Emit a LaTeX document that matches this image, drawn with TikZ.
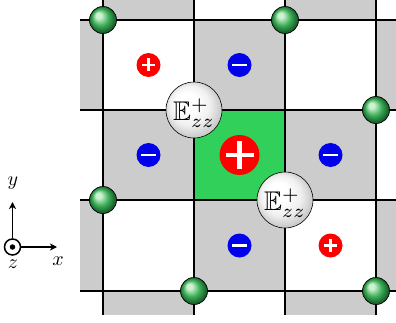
\RequirePackage{fix-cm}
\documentclass[tikz,border=0pt]{standalone}
\usepackage{amssymb}
\usepackage{graphicx}
\usetikzlibrary{arrows.meta}
\definecolor{cellgray}{RGB}{204,204,204}
\definecolor{cellgreen}{RGB}{48,208,90}
\definecolor{signred}{RGB}{255,0,0}
\definecolor{signblue}{RGB}{0,0,235}
\definecolor{balllight}{RGB}{205,242,210}
\definecolor{ballmid}{RGB}{62,175,88}
\definecolor{balldark}{RGB}{24,98,44}
\pgfdeclareradialshading{greenball}{\pgfqpoint{-10bp}{10bp}}{color(0bp)=(balllight); color(5bp)=(balllight); color(15bp)=(ballmid); color(24bp)=(balldark); color(30bp)=(balldark)}
\pgfdeclareradialshading{whiteball}{\pgfqpoint{-10bp}{10bp}}{color(0bp)=(white); color(9bp)=(white); color(18bp)=(black!6); color(25bp)=(black!20); color(30bp)=(black!20)}
\newcommand{\elemtext}{\scalebox{2.7}{$\mathbb{E}^{+}_{zz}$}}
\newcommand{\axtext}[1]{\scalebox{2.0}{$#1$}}
\tikzset{
  x=1pt, y=1pt,
  gridline/.style={line width=2.6pt},
  atom/.style={circle, draw=black, line width=0.7pt, shade, shading=greenball, minimum size=27pt, inner sep=0pt},
  elem/.style={circle, draw=black, line width=0.6pt, shade, shading=whiteball, minimum size=56pt, inner sep=0pt, text depth=0pt},
  possign/.style={circle, fill=signred, minimum size=24pt, inner sep=0pt,
    path picture={\draw[white, line width=2.2pt]
      ([xshift=-6.5pt]path picture bounding box.center) -- ([xshift=6.5pt]path picture bounding box.center)
      ([yshift=-6.5pt]path picture bounding box.center) -- ([yshift=6.5pt]path picture bounding box.center);}},
  negsign/.style={circle, fill=signblue, minimum size=24pt, inner sep=0pt,
    path picture={\draw[white, line width=2.4pt]
      ([xshift=-7.5pt]path picture bounding box.center) -- ([xshift=7.5pt]path picture bounding box.center);}},
  bigpos/.style={circle, fill=signred, minimum size=40pt, inner sep=0pt,
    path picture={\draw[white, line width=4.2pt]
      ([xshift=-14pt]path picture bounding box.center) -- ([xshift=14pt]path picture bounding box.center)
      ([yshift=-14pt]path picture bounding box.center) -- ([yshift=14pt]path picture bounding box.center);}},
  axisarrow/.style={line width=1.5pt, -{Stealth[length=7pt, width=7pt, inset=2pt]}},
  axislabel/.style={inner sep=0pt},
}
\begin{document}
\begin{tikzpicture}
\useasboundingbox (0,0) rectangle (396,322);
\begin{scope}
\clip (80,7) rectangle (396,322);
% cells
\foreach \xa/\xb/\ya/\yb in {
  103/194/302/326, 285/376/302/326,
  80/103/212/302, 194/285/212/302, 376/400/212/302,
  103/194/122/212, 285/376/122/212,
  80/103/31/122, 194/285/31/122, 376/400/31/122,
  103/194/7/31, 285/376/7/31}
  \fill[cellgray] (\xa,\ya) rectangle (\xb,\yb);
\fill[cellgreen] (194,122) rectangle (285,212);
% grid lines
\foreach \x in {103,194,285,376}
  \draw[gridline] (\x,7) -- (\x,330);
\foreach \y in {302,212,122,31}
  \draw[gridline] (76,\y) -- (400,\y);
\end{scope}
% charges
\node[possign] (p1) at (148.5,257) {};
\node[possign] (p2) at (330.5,76.5) {};
\node[negsign] (n1) at (239.5,257) {};
\node[negsign] (n2) at (148.5,167) {};
\node[negsign] (n3) at (330.5,167) {};
\node[negsign] (n4) at (239.5,76.5) {};
\node[bigpos] (bp) at (239.5,167) {};
% atoms
\node[atom] (a1) at (103,302) {};
\node[atom] (a2) at (285,302) {};
\node[atom] (a3) at (376,212) {};
\node[atom] (a4) at (103,122) {};
\node[atom] (a5) at (194,31) {};
\node[atom] (a6) at (376,31) {};
% elements
\node[elem] (e1) at (194,212) {\elemtext};
\node[elem] (e2) at (285,122) {\elemtext};
% axes
\node[circle, draw, line width=1.5pt, minimum size=16pt, inner sep=0pt] (o) at (12.5,75) {};
\node[circle, fill=black, minimum size=5.5pt, inner sep=0pt] (od) at (o.center) {};
\coordinate (ytip) at (12.5,120);
\coordinate (xtip) at (57,75);
\draw[axisarrow] (o) -- (ytip);
\draw[axisarrow] (o) -- (xtip);
\node[axislabel] (ylab) at (13,138.5) {\axtext{y}};
\node[axislabel] (xlab) at (58,61) {\axtext{x}};
\node[axislabel] (zlab) at (13,58) {\axtext{z}};
\end{tikzpicture}
\end{document}
